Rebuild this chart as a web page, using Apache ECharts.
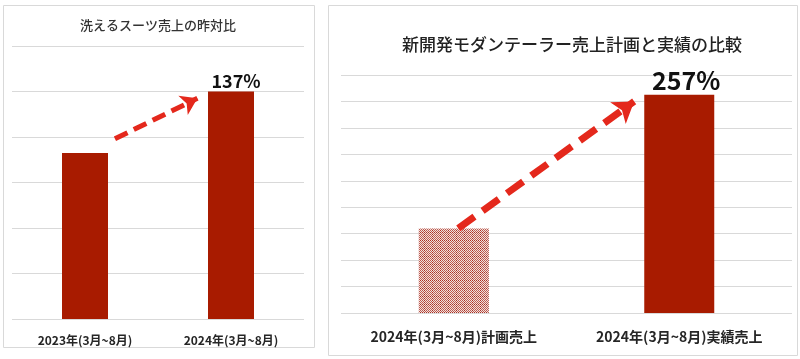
<!DOCTYPE html>
<html>
<head>
<meta charset="utf-8">
<script src="https://cdn.jsdelivr.net/npm/echarts@6/dist/echarts.min.js"></script>
<style>
html,body{margin:0;padding:0;background:#fff;}
#c{width:800px;height:359px;}
</style>
</head>
<body>
<div id="c"></div>
<script>
// ---- data ----
var leftTitle = '洗えるスーツ売上の昨対比';
var leftCategories = ['2023年(3月~8月)', '2024年(3月~8月)'];
var leftValues = [3.65, 5.0];
var leftLabels = ['', '137%'];
var leftArrow = [[0.705, 3.96], [1.27, 4.85]];

var rightTitle = '新開発モダンテーラー売上計画と実績の比較';
var rightCategories = ['2024年(3月~8月)計画売上', '2024年(3月~8月)実績売上'];
var rightValues = [3.2, 8.25];
var rightLabels = ['', '257%'];
var rightArrow = [[0.52, 3.2], [1.30, 8.0]];

var FONT = '"Noto Sans CJK JP", "Noto Sans", sans-serif';
var BAR = '#a81b00';
var ARROW = '#e4281c';
var GRID = '#d9d9d9';

// checkered pattern for plan bar
var pc = document.createElement('canvas');
pc.width = 8; pc.height = 8;
var g = pc.getContext('2d');
g.fillStyle = '#ffffff';
g.fillRect(0, 0, 8, 8);
for (var i = 0; i < 8; i++) {
  for (var j = 0; j < 8; j++) {
    if ((i + j) % 2 === 0) {
      g.fillStyle = (i === 0 || j === 0) ? '#a83024' : '#bb5a50';
      g.fillRect(i, j, 1, 1);
    } else if (i === 0 && j === 0) {
      g.fillStyle = '#c87a70'; g.fillRect(i, j, 1, 1);
    } else {
      g.fillStyle = '#f2e0dc'; g.fillRect(i, j, 1, 1);
    }
  }
}

var chart = echarts.init(document.getElementById('c'));

function catAxis(gi, cats, size) {
  return {
    type: 'category', gridIndex: gi, data: cats,
    axisLine: {show: false}, axisTick: {show: false},
    axisLabel: {fontFamily: FONT, fontWeight: 'bold', fontSize: size, color: '#262626', margin: size === 12 ? 15 : 17}
  };
}
function valAxis(gi, max) {
  return {
    type: 'value', gridIndex: gi, min: 0, max: max, interval: 1,
    axisLabel: {show: false}, axisLine: {show: false}, axisTick: {show: false},
    splitLine: {lineStyle: {color: GRID, width: 1}}
  };
}
function hiddenX(gi) {
  return {type: 'value', gridIndex: gi, min: 0, max: 2, show: false, splitLine: {show: false}};
}

chart.setOption({
  animation: false,
  graphic: [
    {type: 'rect', shape: {x: 3.5, y: 5.5, width: 311, height: 342}, style: {fill: 'none', stroke: GRID, lineWidth: 1}},
    {type: 'rect', shape: {x: 328.5, y: 5.5, width: 469, height: 350}, style: {fill: 'none', stroke: GRID, lineWidth: 1}},
    {type: 'text', x: 158, y: 25, style: {text: leftTitle, font: '500 13px ' + FONT, fill: '#333', textAlign: 'center', textVerticalAlign: 'middle'}},
    {type: 'text', x: 572, y: 45, style: {text: rightTitle, font: '500 17px ' + FONT, fill: '#222', textAlign: 'center', textVerticalAlign: 'middle'}}
  ],
  grid: [
    {left: 12, top: 46, width: 292, height: 273},
    {left: 341, top: 75, width: 451, height: 238}
  ],
  xAxis: [catAxis(0, leftCategories, 12), catAxis(1, rightCategories, 14), hiddenX(0), hiddenX(1)],
  yAxis: [valAxis(0, 6), valAxis(1, 9)],
  series: [
    {
      type: 'bar', xAxisIndex: 0, yAxisIndex: 0, barWidth: 46,
      data: leftValues.map(function (v, i) {
        return {value: v, itemStyle: {color: BAR}};
      }),
      label: {
        show: true, position: 'top', distance: 1, offset: [5, 0],
        formatter: function (p) { return leftLabels[p.dataIndex]; },
        fontFamily: FONT, fontWeight: 'bold', fontSize: 18, color: '#111'
      }
    },
    {
      type: 'bar', xAxisIndex: 1, yAxisIndex: 1, barWidth: 70,
      data: rightValues.map(function (v, i) {
        return {value: v, itemStyle: {color: i === 0 ? {image: pc, repeat: 'repeat'} : BAR}};
      }),
      label: {
        show: true, position: 'top', distance: 2, offset: [7, 0],
        formatter: function (p) { return rightLabels[p.dataIndex]; },
        fontFamily: FONT, fontWeight: 'bold', fontSize: 25, color: '#111'
      }
    },
    {
      type: 'lines', coordinateSystem: 'cartesian2d', xAxisIndex: 2, yAxisIndex: 0, z: 5,
      symbol: ['none', 'arrow'], symbolSize: 16,
      lineStyle: {color: ARROW, width: 5, type: [14, 7], opacity: 1, curveness: 0},
      data: [{coords: leftArrow}]
    },
    {
      type: 'lines', coordinateSystem: 'cartesian2d', xAxisIndex: 3, yAxisIndex: 1, z: 5,
      symbol: ['none', 'arrow'], symbolSize: 20,
      lineStyle: {color: ARROW, width: 7, type: [20, 10], opacity: 1, curveness: 0},
      data: [{coords: rightArrow}]
    }
  ]
});
</script>
</body>
</html>
